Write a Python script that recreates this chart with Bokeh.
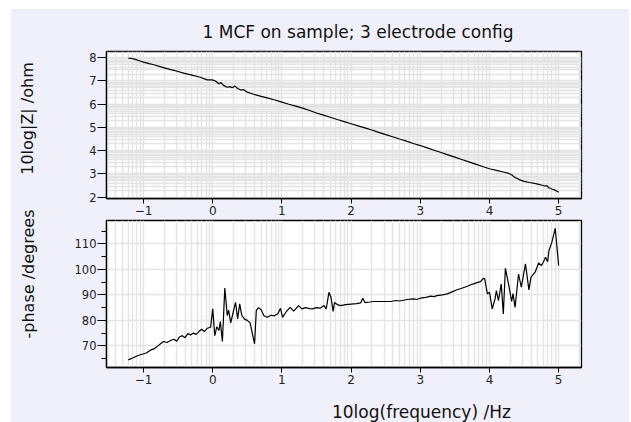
import math
from bokeh.plotting import figure
from bokeh.layouts import column, row
from bokeh.models import Range1d, FixedTicker
from bokeh.core.properties import value
from bokeh.embed import file_html
from bokeh.resources import INLINE

# ---- data ----
log_f_z = [-1.22, -1.17, -1.12, -1.05, -1.00, -0.92, -0.85, -0.75, -0.66, -0.55,
           -0.42, -0.30, -0.18, -0.08, -0.01, 0.04, 0.09, 0.12, 0.16, 0.21,
           0.25, 0.28, 0.32, 0.36, 0.40, 0.45, 0.50, 0.59, 0.70, 0.80,
           0.90, 1.00, 1.10, 1.20, 1.30, 1.40, 1.50, 1.60, 1.70, 1.80,
           1.90, 2.00, 2.10, 2.20, 2.30, 2.40, 2.50, 2.60, 2.70, 2.80,
           2.90, 3.00, 3.10, 3.20, 3.30, 3.40, 3.50, 3.60, 3.70, 3.80,
           3.90, 4.00, 4.10, 4.20, 4.28, 4.32, 4.36, 4.40, 4.45, 4.50,
           4.58, 4.65, 4.70, 4.75, 4.80, 4.83, 4.86, 4.90, 4.95, 5.00]
log_z = [7.98, 7.97, 7.93, 7.86, 7.81, 7.75, 7.70, 7.61, 7.53, 7.45,
         7.34, 7.25, 7.16, 7.05, 7.05, 7.00, 6.88, 6.93, 6.80, 6.73,
         6.76, 6.71, 6.78, 6.68, 6.62, 6.62, 6.52, 6.43, 6.34, 6.26,
         6.18, 6.09, 6.00, 5.92, 5.83, 5.73, 5.62, 5.53, 5.44, 5.34,
         5.25, 5.16, 5.07, 4.98, 4.89, 4.79, 4.69, 4.60, 4.50, 4.41,
         4.31, 4.22, 4.12, 4.02, 3.92, 3.82, 3.72, 3.62, 3.52, 3.42,
         3.32, 3.22, 3.15, 3.08, 3.02, 2.96, 2.86, 2.80, 2.73, 2.68,
         2.63, 2.59, 2.56, 2.52, 2.48, 2.49, 2.40, 2.35, 2.30, 2.21]

log_f_ph = [-1.22, -1.15, -1.08, -1.02, -0.96, -0.90, -0.85, -0.80, -0.75, -0.71,
            -0.66, -0.61, -0.56, -0.52, -0.48, -0.44, -0.40, -0.36, -0.32, -0.28,
            -0.24, -0.20, -0.16, -0.12, -0.08, -0.03, 0.00, 0.03, 0.06, 0.09,
            0.11, 0.14, 0.175, 0.21, 0.23, 0.26, 0.29, 0.33, 0.36, 0.39,
            0.42, 0.46, 0.50, 0.54, 0.605, 0.63, 0.66, 0.70, 0.74, 0.79,
            0.84, 0.89, 0.94, 0.98, 1.01, 1.06, 1.12, 1.17, 1.21, 1.24,
            1.29, 1.34, 1.40, 1.44, 1.50, 1.55, 1.61, 1.64, 1.68, 1.71,
            1.74, 1.76, 1.80, 1.85, 1.92, 2.00, 2.08, 2.14, 2.17, 2.20,
            2.27, 2.33, 2.45, 2.57, 2.65, 2.70, 2.81, 2.90, 2.95, 3.00,
            3.08, 3.15, 3.20, 3.24, 3.32, 3.39, 3.46, 3.53, 3.60, 3.68,
            3.73, 3.77, 3.82, 3.87, 3.91, 3.93, 3.97, 4.00, 4.04, 4.08,
            4.10, 4.13, 4.17, 4.20, 4.23, 4.28, 4.32, 4.34, 4.37, 4.42,
            4.46, 4.52, 4.57, 4.60, 4.66, 4.71, 4.75, 4.78, 4.81, 4.84,
            4.86, 4.90, 4.95, 5.00]
phase = [64.5, 65.3, 66.2, 66.7, 67.2, 68.3, 68.8, 69.8, 70.9, 71.7,
         71.3, 72.1, 72.6, 71.8, 73.5, 74.0, 73.2, 74.8, 74.3, 75.0,
         74.5, 75.6, 76.5, 75.6, 76.9, 77.3, 84.5, 74.0, 77.5, 76.0,
         79.5, 71.7, 92.7, 81.9, 84.0, 79.0, 82.5, 87.1, 80.6, 86.5,
         82.0, 80.5, 80.0, 79.0, 70.8, 83.8, 85.0, 84.2, 81.8, 81.2,
         82.0, 81.8, 82.6, 84.7, 81.2, 83.3, 85.1, 83.6, 84.8, 85.8,
         84.5, 85.0, 84.6, 84.5, 85.0, 84.8, 85.8, 84.5, 91.0, 89.0,
         83.5, 87.0, 86.2, 85.8, 86.2, 86.4, 86.6, 86.9, 88.7, 87.0,
         87.2, 87.4, 87.4, 87.4, 87.8, 87.6, 88.2, 88.4, 88.2, 88.7,
         89.0, 89.5, 89.3, 89.7, 90.0, 90.4, 91.2, 92.0, 92.6, 93.4,
         94.0, 94.3, 94.8, 95.2, 96.5, 96.4, 90.4, 91.0, 84.5, 88.4,
         91.7, 87.7, 94.3, 82.5, 100.4, 93.6, 87.4, 90.5, 85.1, 98.2,
         93.0, 102.2, 92.0, 97.0, 98.9, 102.5, 101.5, 103.0, 104.8, 103.0,
         107.4, 110.5, 116.1, 101.5]

x_ticks = [-1, 0, 1, 2, 3, 4, 5]
z_ticks = [2, 3, 4, 5, 6, 7, 8]
ph_major = [70, 80, 90, 100, 110]
ph_minor = [65, 75, 85, 95, 105, 115]
ph_grid = [60, 70, 80, 90, 100, 110, 120]

title_text = "1 MCF on sample; 3 electrode config"
ylabel_top = "10log|Z| /ohm"
ylabel_bot = "-phase /degrees"
xlabel = "10log(frequency) /Hz"

# log-style grid positions (n + log10(k))
xgrid = [n + math.log10(k) for n in range(-2, 6) for k in range(1, 10)]
zgrid = [n + math.log10(k) for n in range(1, 9) for k in range(1, 10)]

BG = "#f0f0fa"
FONT = "DejaVu Sans"
GRID = "#e4e4e4"
TXT = "#111111"


def style(p):
    p.background_fill_color = "white"
    p.border_fill_color = BG
    p.outline_line_color = "black"
    p.outline_line_width = 1.3
    p.outline_line_alpha = 1.0
    for ax in p.axis:
        ax.axis_line_color = "black"
        ax.axis_line_width = 1.3
        ax.major_tick_line_color = "black"
        ax.minor_tick_line_color = "black"
        ax.major_tick_in = 0
        ax.minor_tick_in = 0
        ax.major_label_text_font = FONT
        ax.major_label_text_font_size = "11.5px"
        ax.major_label_text_color = "#222222"
    p.xaxis.major_tick_out = 5
    p.xaxis.minor_tick_out = 0
    p.xaxis.major_label_standoff = 2
    p.xaxis.major_label_text_font_size = "12px"
    p.yaxis.major_tick_out = 9
    p.yaxis.minor_tick_out = 5
    p.yaxis.major_label_standoff = 1
    p.xaxis.ticker = FixedTicker(ticks=x_ticks, minor_ticks=[])
    p.xgrid.ticker = FixedTicker(ticks=xgrid, minor_ticks=[])
    for g in (p.xgrid, p.ygrid):
        g.grid_line_color = GRID
        g.grid_line_width = 1.5
        g.minor_grid_line_color = None


def blank(width, height):
    f = figure(width=width, height=height, x_range=Range1d(0, width), y_range=Range1d(0, height),
               x_axis_type=None, y_axis_type=None, output_backend="svg", toolbar_location=None,
               min_border=0, min_border_left=0, min_border_right=0, min_border_top=0,
               min_border_bottom=0)
    f.outline_line_color = None
    f.background_fill_color = BG
    f.border_fill_color = BG
    return f


# ---- top panel ----
p1 = figure(width=573, height=210, x_range=Range1d(-1.535, 5.33), y_range=Range1d(1.94, 8.27),
            output_backend="svg", toolbar_location=None,
            min_border_left=50, min_border_right=48, min_border_top=42, min_border_bottom=21)
style(p1)
p1.yaxis.ticker = FixedTicker(ticks=z_ticks, minor_ticks=[])
p1.ygrid.ticker = FixedTicker(ticks=zgrid, minor_ticks=[])
p1.line(log_f_z, log_z, line_color="black", line_width=1.2)
p1.title.text = title_text
p1.title.align = "left"
p1.title.offset = 96
p1.title.text_font = FONT
p1.title.text_font_size = "17px"
p1.title.text_font_style = "normal"
p1.title.text_color = TXT
p1.title.standoff = 19

# ---- bottom panel ----
p2 = figure(width=573, height=176, x_range=p1.x_range, y_range=Range1d(61.5, 119.2),
            output_backend="svg", toolbar_location=None,
            min_border_left=50, min_border_right=48, min_border_top=1, min_border_bottom=28)
style(p2)
p2.yaxis.ticker = FixedTicker(ticks=ph_major, minor_ticks=ph_minor)
p2.ygrid.ticker = FixedTicker(ticks=ph_grid, minor_ticks=[])
p2.line(log_f_ph, phase, line_color="black", line_width=1.2)

# ---- strip under the bottom panel holding the x-axis title ----
strip = blank(573, 27)
strip.text(x=[272], y=[10.5], text=[xlabel], text_align="left", text_baseline="alphabetic",
           text_font=value(FONT), text_font_size="17px", text_color=TXT)

# ---- strip on the left holding the y-axis titles ----
side = blank(45, 413)
side.text(x=[16, 17], y=[304, 148.5], text=[ylabel_top, ylabel_bot], angle=math.pi / 2,
          text_align="center", text_baseline="middle",
          text_font=value(FONT), text_font_size="16px", text_color=TXT)

inner = column(p1, p2, strip, spacing=0, styles={"background-color": BG})
layout = row(side, inner, spacing=0, styles={"background-color": BG})
layout.margin = (9, 2, 0, 11)
open("out.html", "w").write(file_html(layout, INLINE))
